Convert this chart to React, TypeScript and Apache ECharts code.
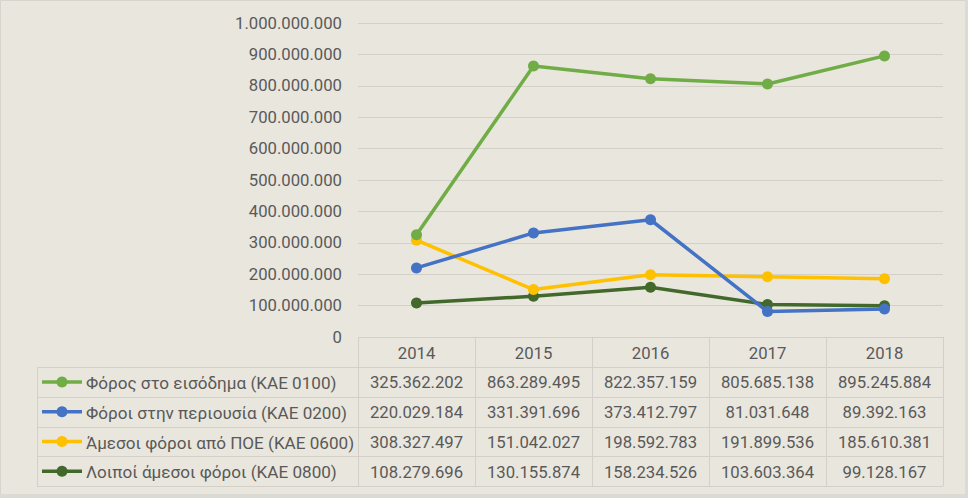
import React, { useEffect, useRef } from "react";
import * as echarts from "echarts";

const years = ["2014", "2015", "2016", "2017", "2018"];
const seriesNames = [
  "Φόρος στο εισόδημα (ΚΑΕ 0100)",
  "Φόροι στην περιουσία (ΚΑΕ 0200)",
  "Άμεσοι φόροι από ΠΟΕ (ΚΑΕ 0600)",
  "Λοιποί άμεσοι φόροι (ΚΑΕ 0800)",
];
const incomeTax = [325362202, 863289495, 822357159, 805685138, 895245884];
const propertyTax = [220029184, 331391696, 373412797, 81031648, 89392163];
const poeTax = [308327497, 151042027, 198592783, 191899536, 185610381];
const otherTax = [108279696, 130155874, 158234526, 103603364, 99128167];
const seriesData = [incomeTax, propertyTax, poeTax, otherTax];
const seriesColors = ["#70AD47", "#4472C4", "#FFC000", "#43682B"];
const yTicks = { min: 0, max: 1000000000, interval: 100000000 };

const W = 968;
const H = 498;
const GRID_LEFT = 358;
const GRID_RIGHT = 25;
const GRID_TOP = 23;
const GRID_BOTTOM = 161;
const TABLE_LEFT = 37;
const HEADER_H = 30;
const ROW_H = 29.8;
const FONT = "Roboto, 'Liberation Sans', sans-serif";
const FS = 16.7;
const LEGEND_FS = 17.1;
const TEXT_COLOR = "#595959";
const LINE_COLOR = "#D3D0C9";
const BG = "#E9E6DE";

function fmt(v: number): string {
  return Math.round(v)
    .toString()
    .replace(/\B(?=(\d{3})+(?!\d))/g, ".");
}

export default function App() {
  const ref = useRef<HTMLDivElement>(null);
  useEffect(() => {
    if (!ref.current) return;
    const chart = echarts.init(ref.current, null, { renderer: "svg" });
    const option: any = {
      animation: false,
      backgroundColor: BG,
      grid: { left: GRID_LEFT, right: GRID_RIGHT, top: GRID_TOP, bottom: GRID_BOTTOM, containLabel: false },
      xAxis: {
        type: "category",
        data: years,
        boundaryGap: true,
        axisLine: { show: false },
        axisTick: { show: false },
        axisLabel: { show: false },
      },
      yAxis: {
        type: "value",
        min: yTicks.min,
        max: yTicks.max,
        interval: yTicks.interval,
        axisLine: { show: false },
        axisTick: { show: false },
        axisLabel: {
          formatter: (v: number) => fmt(v),
          color: TEXT_COLOR,
          fontFamily: FONT,
          fontSize: FS,
          margin: 16,
        },
        splitLine: { lineStyle: { color: LINE_COLOR, width: 1 } },
      },
      series: seriesNames.map((name, i) => ({
        name,
        type: "line",
        data: seriesData[i],
        symbol: "circle",
        symbolSize: 11,
        lineStyle: { color: seriesColors[i], width: 3.5 },
        itemStyle: { color: seriesColors[i] },
        z: 10 - i,
      })),
    };
    chart.setOption(option);

    const plotRight = W - GRID_RIGHT;
    const axisY = H - GRID_BOTTOM;
    const colW = (plotRight - GRID_LEFT) / years.length;
    const graphics: any[] = [];
    graphics.push({
      type: "rect",
      shape: { x: 0.5, y: 0.5, width: W - 3, height: H - 4 },
      style: { fill: "none", stroke: "#D6D4CE", lineWidth: 1 },
      silent: true,
    });
    graphics.push({
      type: "rect",
      shape: { x: 0, y: H - 4, width: W, height: 4 },
      style: { fill: "#DCDAD5" },
      silent: true,
    });
    graphics.push({
      type: "rect",
      shape: { x: W - 3, y: 0, width: 3, height: H },
      style: { fill: "#DCDAD5" },
      silent: true,
    });
    const rowsTop = axisY + HEADER_H;
    const tableBottom = rowsTop + ROW_H * seriesNames.length;
    const lineStyle = { stroke: LINE_COLOR, lineWidth: 1 };
    graphics.push({ type: "line", shape: { x1: GRID_LEFT, y1: axisY + 0.5, x2: plotRight, y2: axisY + 0.5 }, style: lineStyle, silent: true });
    for (let r = 0; r <= seriesNames.length; r++) {
      const y = Math.round(rowsTop + r * ROW_H) + 0.5;
      graphics.push({ type: "line", shape: { x1: TABLE_LEFT, y1: y, x2: plotRight, y2: y }, style: lineStyle, silent: true });
    }
    graphics.push({ type: "line", shape: { x1: TABLE_LEFT + 0.5, y1: rowsTop, x2: TABLE_LEFT + 0.5, y2: tableBottom }, style: lineStyle, silent: true });
    for (let c = 0; c <= years.length; c++) {
      const x = Math.round(GRID_LEFT + c * colW) + 0.5;
      graphics.push({ type: "line", shape: { x1: x, y1: axisY, x2: x, y2: tableBottom }, style: lineStyle, silent: true });
    }
    const textEl = (x: number, y: number, text: string, align: string, fs: number) => ({
      type: "text",
      x,
      y,
      silent: true,
      style: {
        text,
        fill: TEXT_COLOR,
        font: `${fs}px ${FONT}`,
        align,
        verticalAlign: "middle",
      },
    });
    years.forEach((yr, c) => {
      const cx = chart.convertToPixel({ xAxisIndex: 0 }, yr) as number;
      graphics.push(textEl(cx, axisY + HEADER_H / 2 + 1, yr, "center", FS));
      seriesData.forEach((arr, r) => {
        graphics.push(textEl(cx, rowsTop + ROW_H * r + ROW_H / 2 + 1, fmt(arr[c]), "center", FS));
      });
    });
    seriesNames.forEach((name, r) => {
      const cy = rowsTop + ROW_H * r + ROW_H / 2;
      graphics.push({ type: "line", shape: { x1: 42, y1: cy, x2: 82, y2: cy }, style: { stroke: seriesColors[r], lineWidth: 3.5 }, silent: true });
      graphics.push({ type: "circle", shape: { cx: 62, cy, r: 5.5 }, style: { fill: seriesColors[r] }, silent: true });
      graphics.push(textEl(86, cy + 1, name, "left", LEGEND_FS));
    });
    chart.setOption({ graphic: graphics });
    return () => chart.dispose();
  }, []);
  return (
    <div
      ref={ref}
      style={{ position: "fixed", left: 0, top: 0, width: W, height: H }}
    />
  );
}
